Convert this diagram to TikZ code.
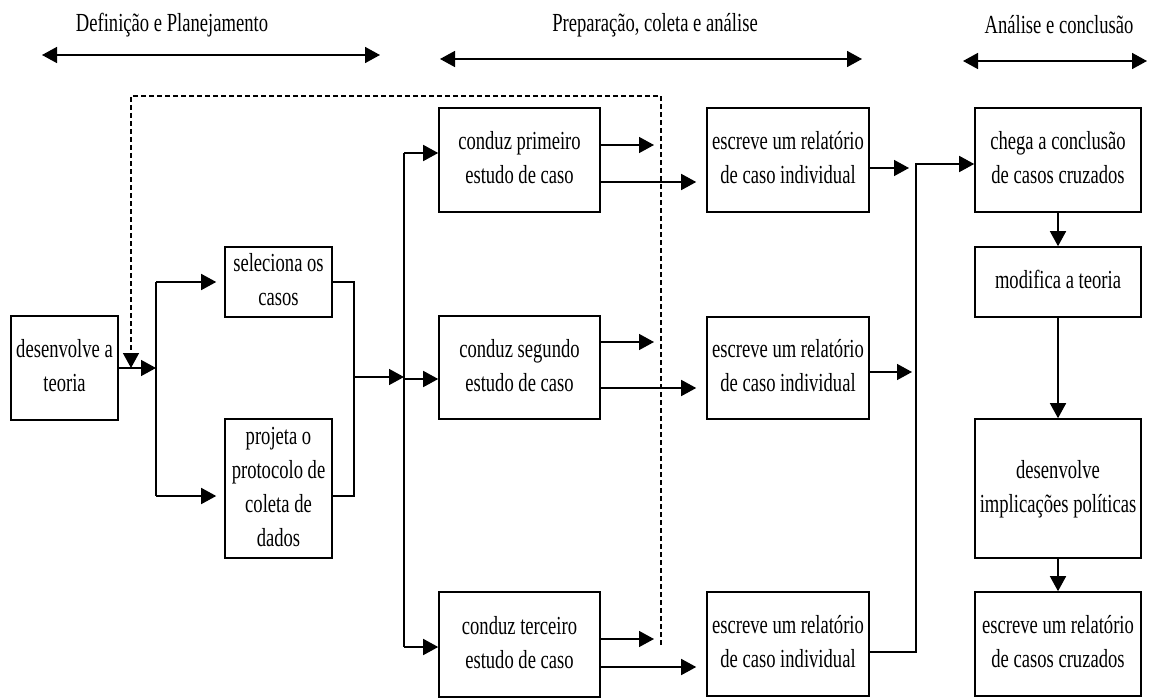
\documentclass[tikz,border=0pt]{standalone}
\usepackage{fontspec}
\setmainfont{Liberation Serif}
\usepackage{graphicx}
\usetikzlibrary{arrows.meta,calc}
% stacked, slightly tall lettering used in every box
\newcommand{\tallText}[1]{\scalebox{1}[1.4]{\begin{tabular}{@{}c@{}}#1\end{tabular}}}

\begin{document}
\begin{tikzpicture}[x=1pt,y=-1pt,
  >={Triangle[length=15pt,width=16pt]},
  stage/.style={draw, line width=1.6pt, inner sep=0pt, align=center,
                font=\fontsize{18.6}{24.3}\selectfont},
  phase/.style={inner sep=0pt, font=\fontsize{18.6}{24.3}\selectfont},
  wire/.style={line width=1.5pt},
  span/.style={line width=1.6pt, <->},
  feedback/.style={line width=1.5pt, dash pattern=on 5pt off 3pt}]

\fill[white] (0,0) rectangle (1150,698);
\useasboundingbox (0,0) rectangle (1150,698);

% ---- phase headings ----
\node[phase] (h1) at (172,25) {\scalebox{1}[1.4]{Definição e Planejamento}};
\node[phase] (h2) at (655,25) {\scalebox{1}[1.4]{Preparação, coleta e análise}};
\node[phase] (h3) at (1059,25) {\scalebox{1}[1.4]{Análise e conclusão}};
\coordinate (h1l) at (42,55);  \coordinate (h1r) at (380,55);
\coordinate (h2l) at (440,59); \coordinate (h2r) at (862,59);
\coordinate (h3l) at (963,61); \coordinate (h3r) at (1147,61);
\draw[span] (h1l) -- (h1r);
\draw[span] (h2l) -- (h2r);
\draw[span] (h3l) -- (h3r);

% ---- planning ----
\node[stage, minimum width=107pt, minimum height=104pt] (dt) at (64.5,368)
  {\tallText{desenvolve a\\teoria}};
\node[stage, minimum width=107pt, minimum height=70pt] (sel) at (278.5,282)
  {\tallText{seleciona os\\casos}};
\node[stage, minimum width=107pt, minimum height=139pt] (proj) at (278.5,488.5)
  {\tallText{projeta o\\protocolo de\\coleta de\\dados}};

% ---- case studies ----
\node[stage, minimum width=161pt, minimum height=104pt] (c1) at (519.5,160)
  {\tallText{conduz primeiro\\estudo de caso}};
\node[stage, minimum width=161pt, minimum height=103pt] (c2) at (519.5,367.5)
  {\tallText{conduz segundo\\estudo de caso}};
\node[stage, minimum width=161pt, minimum height=105pt] (c3) at (519.5,644.5)
  {\tallText{conduz terceiro\\estudo de caso}};

% ---- individual reports ----
\node[stage, minimum width=162pt, minimum height=104pt] (r1) at (788,160)
  {\tallText{escreve um relatório\\de caso individual}};
\node[stage, minimum width=162pt, minimum height=102pt] (r2) at (788,368)
  {\tallText{escreve um relatório\\de caso individual}};
\node[stage, minimum width=162pt, minimum height=104pt] (r3) at (788,644)
  {\tallText{escreve um relatório\\de caso individual}};

% ---- conclusion ----
\node[stage, minimum width=166pt, minimum height=104pt] (k1) at (1058,160)
  {\tallText{chega a conclusão\\de casos cruzados}};
\node[stage, minimum width=166pt, minimum height=70pt] (k2) at (1058,282)
  {\tallText{modifica a teoria}};
\node[stage, minimum width=166pt, minimum height=139pt] (k3) at (1058,488.5)
  {\tallText{desenvolve\\implicações políticas}};
\node[stage, minimum width=166pt, minimum height=104pt] (k4) at (1058,644)
  {\tallText{escreve um relatório\\de casos cruzados}};

% ---- theory splits into case selection and protocol ----
\coordinate (ja) at (156,368);
\coordinate (pin) at ($(proj.west)+(0,7.5)$);
\coordinate (pout) at ($(proj.east)+(0,7.5)$);
\draw[wire,->] (dt.east) -- (ja);
\draw[wire] (ja |- sel.west) -- (ja |- pin);
\draw[wire,->,shorten >=8pt] (ja |- sel.west) -- (sel.west);
\draw[wire,->,shorten >=8pt] (ja |- pin) -- (pin);

% ---- both feed the three case studies ----
\coordinate (jb) at (354,377);
\coordinate (jc) at (404,377);
\draw[wire] (sel.east) -| (jb |- pout) -- (pout);
\draw[wire,->] (jb) -- (jc);
\coordinate (c1in) at ($(c1.west)+(0,-7)$);
\coordinate (c2in) at ($(c2.west)+(0,11.5)$);
\coordinate (c3in) at ($(c3.west)+(0,2.5)$);
\draw[wire] (jc |- c1in) -- (jc |- c3in);
\draw[wire,->] (jc |- c1in) -- (c1in);
\draw[wire,->] (jc |- c2in) -- (c2in);
\draw[wire,->] (jc |- c3in) -- (c3in);

% ---- feedback loop back to the theory ----
\coordinate (dA) at (131,96);
\coordinate (dB) at (661,96);
\coordinate (dC) at (661,645);
\draw[feedback,->] (dC) |- (dA) -- (dA |- dt.east);

% ---- case study outputs ----
\coordinate (c1-hi) at ($(c1.east)+(0,-15)$);
\coordinate (c1-lo) at ($(c1.east)+(0,22)$);
\coordinate (c2-hi) at ($(c2.east)+(0,-25.5)$);
\coordinate (c2-lo) at ($(c2.east)+(0,20.5)$);
\coordinate (c3-hi) at ($(c3.east)+(0,-5.5)$);
\coordinate (c3-lo) at ($(c3.east)+(0,22.5)$);
\foreach \n/\r in {c1/r1, c2/r2, c3/r3}{
  \draw[wire,->,shorten >=7pt] (\n-hi) -- (\n-hi -| dB);
  \draw[wire,->,shorten >=10pt] (\n-lo) -- (\n-lo -| \r.west);
}

% ---- reports gather into the cross-case conclusion ----
\coordinate (jd) at (916,164);
\coordinate (k1in) at ($(k1.west)+(0,4)$);
\coordinate (r1out) at ($(r1.east)+(0,8)$);
\coordinate (r2out) at ($(r2.east)+(0,4)$);
\coordinate (r3out) at ($(r3.east)+(0,8)$);
\draw[wire,->,shorten >=7pt] (r1out) -- (r1out -| jd);
\draw[wire,->,shorten >=4pt] (r2out) -- (r2out -| jd);
\draw[wire,->] (r3out) -| (jd) -- (k1in);

% ---- conclusion chain ----
\draw[wire,->] (k1.south) -- (k2.north);
\draw[wire,->] (k2.south) -- (k3.north);
\draw[wire,->] (k3.south) -- (k4.north);

\end{tikzpicture}
\end{document}
